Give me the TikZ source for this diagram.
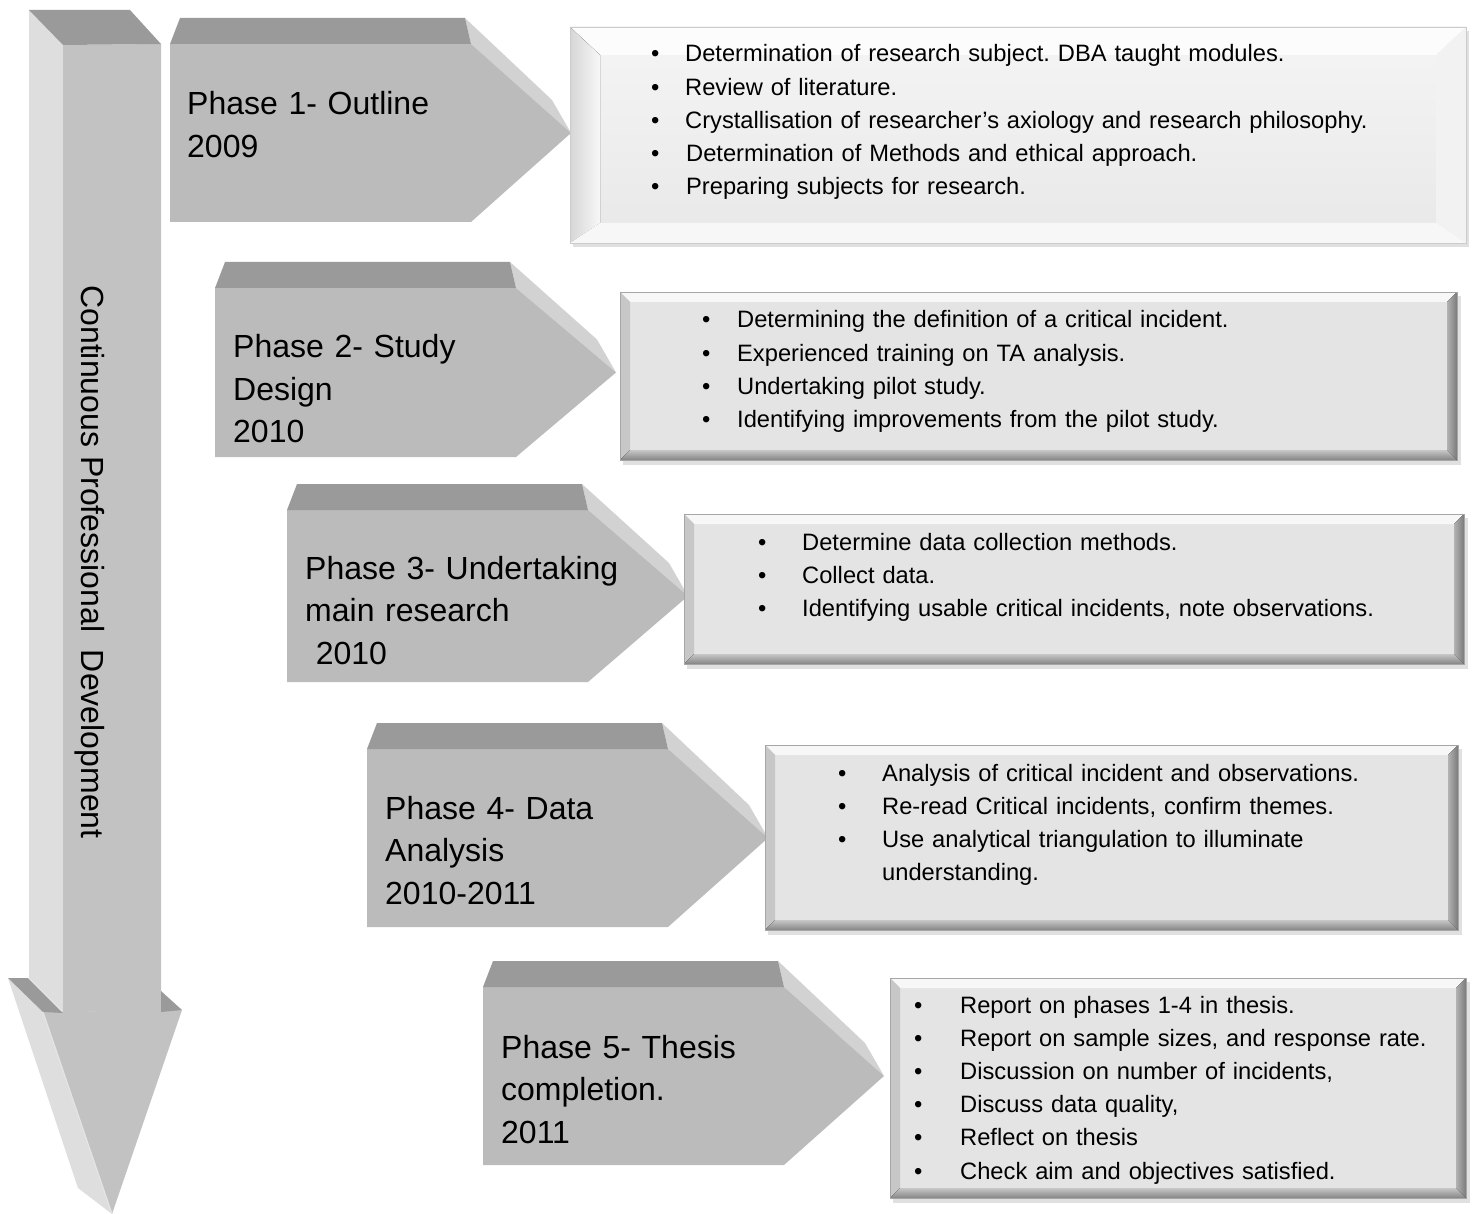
\documentclass[tikz,border=0pt]{standalone}
\usepackage{fontspec}
\setmainfont{Liberation Sans}
\frenchspacing
\definecolor{facegrey}{HTML}{BBBBBB}
\definecolor{stemgrey}{HTML}{C2C2C2}
\definecolor{topgrey}{HTML}{9A9A9A}
\definecolor{sidegrey}{HTML}{D2D2D2}
\definecolor{paleside}{HTML}{DEDEDE}
\definecolor{listface}{HTML}{E4E4E4}
\begin{document}
\begin{tikzpicture}[x=1pt,y=-1pt,
    phasetext/.style={anchor=base west,inner sep=0pt,text width=330pt,align=left,
        font=\fontsize{32}{42.5}\selectfont},
    listtext/.style={anchor=base west,inner sep=0pt,text width=820pt,align=left,
        font=\fontsize{23.7}{33.2}\selectfont},
    shadow/.style={fill=black,opacity=0.12}
]
\useasboundingbox (0,0) rectangle (1472,1214);

% long arrow on the left
\fill[paleside] (29,10) -- (63,45) -- (63,1012) -- (29,978) -- cycle;
\fill[stemgrey] (63,45) -- (161,44) -- (161,1011) -- (63,1012) -- cycle;
\fill[topgrey] (29,10) -- (130,10) -- (161,44) -- (63,45) -- cycle;
\fill[paleside] (8,978) -- (43,1012) -- (112,1214) -- (78,1188) -- cycle;
\fill[stemgrey] (43,1012) -- (182,1010) -- (112,1214) -- cycle;
\fill[topgrey] (8,978) -- (28,978) -- (63,1013) -- (43,1012) -- cycle;
\fill[topgrey] (161,991) -- (182,1010) -- (161,1012) -- cycle;
\draw[white!90!black,line width=1.2pt] (43,1012) -- (112,1214);
\node[rotate=-90,inner sep=0pt,font=\fontsize{32}{40}\selectfont] (cpd) at (90,562)
    {Continuous Professional\ \ Development};

% phase arrows
\foreach \xl/\yt/\yb in {170/18/222, 215/262/457, 287/484/682, 367/723/927, 483/961/1165}{
    \pgfmathsetmacro\ym{(\yt+26+\yb)/2}
    \fill[sidegrey] (\xl+295,\yt) -- (\xl+382,\ym-33) -- (\xl+401,\ym) -- (\xl+301,\yt+26) -- cycle;
    \fill[facegrey] (\xl,\yt+26) -- (\xl+301,\yt+26) -- (\xl+401,\ym) -- (\xl+301,\yb) -- (\xl,\yb) -- cycle;
    \fill[topgrey] (\xl+10,\yt) -- (\xl+295,\yt) -- (\xl+301,\yt+26) -- (\xl,\yt+26) -- cycle;
}

% first list box (light)
\fill[shadow] (573,31) rectangle (1469,247);
\fill[top color=white!96!black,bottom color=white!91!black] (570,27) rectangle (1466,243);
\fill[white!99!black] (570,27) -- (1466,27) -- (1436,55) -- (600,55) -- cycle;
\fill[left color=white!84!black,right color=white!97!black] (570,27) -- (600,55) -- (600,223) -- (570,243) -- cycle;
\fill[white!95!black] (1466,27) -- (1466,243) -- (1436,223) -- (1436,55) -- cycle;
\fill[white!97!black] (570,243) -- (1466,243) -- (1436,223) -- (600,223) -- cycle;
\draw[white!80!black] (570,27) rectangle (1466,243);

% grey list boxes
\foreach \xa/\ya/\xb/\yb in {620/292/1457/460, 684/514/1464/664, 765/745/1458/930, 890/978/1466/1198}{
    \fill[shadow] (\xa+3,\ya+4) rectangle (\xb+4,\yb+5);
    \fill[listface] (\xa,\ya) rectangle (\xb,\yb);
    \fill[white!97!black] (\xa,\ya) -- (\xb,\ya) -- (\xb-10,\ya+10) -- (\xa+10,\ya+10) -- cycle;
    \fill[white!78!black] (\xa,\ya) -- (\xa+10,\ya+10) -- (\xa+10,\yb-10) -- (\xa,\yb) -- cycle;
    \fill[left color=white!70!black,right color=black!52] (\xb,\ya) -- (\xb,\yb) -- (\xb-10,\yb-10) -- (\xb-10,\ya+10) -- cycle;
    \fill[top color=white!78!black,bottom color=black!48] (\xa,\yb) -- (\xb,\yb) -- (\xb-10,\yb-10) -- (\xa+10,\yb-10) -- cycle;
    \draw[white!65!black,line width=0.6pt] (\xa,\ya) rectangle (\xb,\yb);
}

% phase labels
\node[phasetext] (ph1) at (187,115) {Phase 1- Outline\\2009};
\node[phasetext] (ph2) at (233,358) {Phase 2- Study\\Design\\2010};
\node[phasetext] (ph3) at (305,579) {Phase 3- Undertaking\\main research\\~2010};
\node[phasetext] (ph4) at (385,819) {Phase 4- Data\\Analysis\\2010-2011};
\node[phasetext] (ph5) at (501,1058) {Phase 5- Thesis\\completion.\\2011};

% lists
\node[listtext] (list1) at (651,62) {%
    \makebox[34pt][l]{\textbullet}Determination of research subject. DBA taught modules.\\
    \makebox[34pt][l]{\textbullet}Review of literature.\\
    \makebox[34pt][l]{\textbullet}Crystallisation of researcher’s axiology and research philosophy.\\
    \makebox[35pt][l]{\textbullet}Determination of Methods and ethical approach.\\
    \makebox[35pt][l]{\textbullet}Preparing subjects for research.};
\node[listtext] (list2) at (702,328) {%
    \makebox[35pt][l]{\textbullet}Determining the definition of a critical incident.\\
    \makebox[35pt][l]{\textbullet}Experienced training on TA analysis.\\
    \makebox[35pt][l]{\textbullet}Undertaking pilot study.\\
    \makebox[35pt][l]{\textbullet}Identifying improvements from the pilot study.};
\node[listtext] (list3) at (758,550) {%
    \makebox[44pt][l]{\textbullet}Determine data collection methods.\\
    \makebox[44pt][l]{\textbullet}Collect data.\\
    \makebox[44pt][l]{\textbullet}Identifying usable critical incidents, note observations.};
\node[listtext] (list4) at (838,781) {%
    \makebox[44pt][l]{\textbullet}Analysis of critical incident and observations.\\
    \makebox[44pt][l]{\textbullet}Re-read Critical incidents, confirm themes.\\
    \makebox[44pt][l]{\textbullet}Use analytical triangulation to illuminate\\
    \hspace*{44pt}understanding.};
\node[listtext] (list5) at (914,1013) {%
    \makebox[46pt][l]{\textbullet}Report on phases 1-4 in thesis.\\
    \makebox[46pt][l]{\textbullet}Report on sample sizes, and response rate.\\
    \makebox[46pt][l]{\textbullet}Discussion on number of incidents,\\
    \makebox[46pt][l]{\textbullet}Discuss data quality,\\
    \makebox[46pt][l]{\textbullet}Reflect on thesis\\
    \makebox[46pt][l]{\textbullet}Check aim and objectives satisfied.};
\end{tikzpicture}
\end{document}
